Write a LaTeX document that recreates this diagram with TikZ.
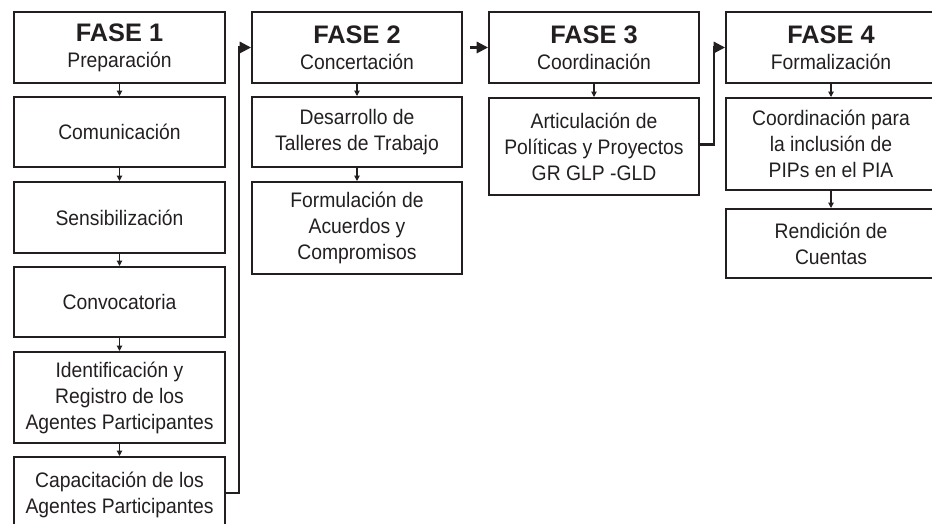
\documentclass[tikz,border=0pt]{standalone}
\usepackage{fontspec}
\setmainfont{Liberation Sans}[FakeStretch=0.92]
\newfontfamily\fasefont{Liberation Sans}
\usetikzlibrary{arrows.meta}
\definecolor{ink}{HTML}{231F20}
\begin{document}
\begin{tikzpicture}[x=0.75pt,y=-0.75pt,
  box/.style={draw=ink, line width=1.5pt, text=ink, align=center, inner sep=0pt,
    font=\fontsize{15.75}{19.5}\selectfont},
  head/.style={box, minimum height=53.25pt},
  w1/.style={minimum width=158.25pt},
  w2/.style={minimum width=157.5pt},
  small/.style={draw=ink, line width=0.8pt, -{Triangle[length=4pt,width=4pt]}},
  big/.style={draw=ink, line width=1.6pt, -{Triangle[length=8.5pt,width=8.5pt]}}
]
\useasboundingbox (0,0) rectangle (932,524);
% column 1
\node[head,w1] (f1) at (119.5,47.5) {{\fasefont\fontsize{19}{21}\selectfont\bfseries FASE 1}\\[0pt]Preparación};
\node[box,w1,minimum height=52.5pt] (com) at (119.5,132) {Comunicación};
\node[box,w1,minimum height=53.25pt] (sen) at (119.5,217.5) {Sensibilización};
\node[box,w1,minimum height=52.5pt] (conv) at (119.5,302) {Convocatoria};
\node[box,w1,minimum height=68.25pt] (ident) at (119.5,397.5) {Identificación y\\Registro de los\\Agentes Participantes};
\node[box,w1,minimum height=57pt] (cap) at (119.5,495) {Capacitación de los\\Agentes Participantes};
% column 2
\node[head,w2] (f2) at (357,47.5) {{\fasefont\fontsize{19}{21}\selectfont\bfseries FASE 2}\\[0pt]Concertación};
\node[box,w2,minimum height=52.5pt] (des) at (357,132) {Desarrollo de\\Talleres de Trabajo};
\node[box,w2,minimum height=69pt] (form) at (357,228) {Formulación de\\Acuerdos y\\Compromisos};
% column 3
\node[head,w2] (f3) at (594,47.5) {{\fasefont\fontsize{19}{21}\selectfont\bfseries FASE 3}\\[0pt]Coordinación};
\node[box,w2,minimum height=72.75pt] (art) at (594,146.5) {Articulación de\\Políticas y Proyectos\\GR GLP -GLD};
% column 4
\node[head,w2] (f4) at (831,47.5) {{\fasefont\fontsize{19}{21}\selectfont\bfseries FASE 4}\\[0pt]Formalización};
\node[box,w2,minimum height=69pt] (coord) at (831,144) {Coordinación para\\la inclusión de\\PIPs en el PIA};
\node[box,w2,minimum height=51.75pt] (rend) at (831,243.5) {Rendición de\\Cuentas};
% small arrows
\draw[small] (f1) -- (com);
\draw[small] (com) -- (sen);
\draw[small] (sen) -- (conv);
\draw[small] (conv) -- (ident);
\draw[small] (ident) -- (cap);
\draw[small] (f2) -- (des);
\draw[small] (des) -- (form);
\draw[small] (f3) -- (art);
\draw[small] (f4) -- (coord);
\draw[small] (coord) -- (rend);
% big arrows
\draw[big] ([yshift=1.5pt]cap.east) -- ++(13,0) |- (f2.west);
\draw[big, shorten <=5pt] (f2.east) -- (f3.west);
\draw[big] ([yshift=1.5pt]art.east) -- ++(14,0) |- (f4.west);
\end{tikzpicture}
\end{document}
